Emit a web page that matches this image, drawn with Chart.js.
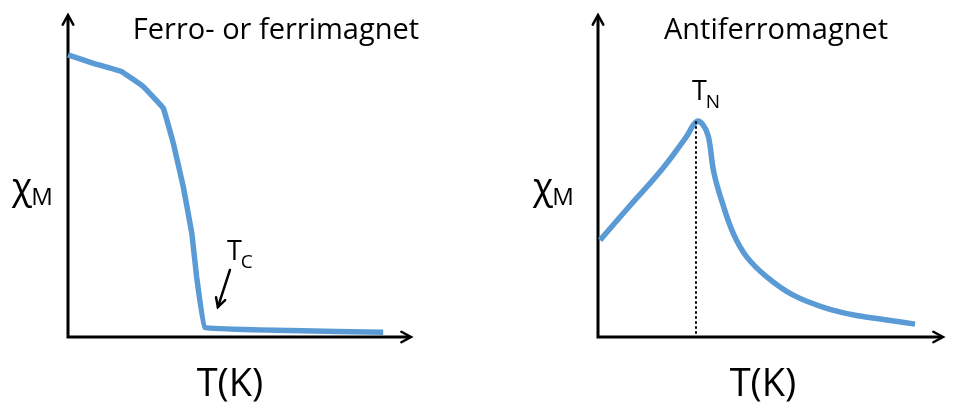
<!DOCTYPE html>
<html><head><meta charset="utf-8">
<script src="https://cdn.jsdelivr.net/npm/chart.js@4"></script>
<style>
html,body{margin:0;padding:0;background:#fff;}
#wrap{display:flex;width:960px;height:414px;}
canvas{display:block;}
</style>
</head><body>
<div id="wrap"><canvas id="c1" width="480" height="414"></canvas><canvas id="c2" width="480" height="414"></canvas></div>
<script>
// ---- data (arbitrary units, 0..100) ----
const ferroT   = [0, 7.4, 15.7, 22.0, 27.8, 30.7, 33.6, 36.1, 37.5, 39.9, 64.7, 91.9];
const ferroChi = [87.6, 85.0, 82.4, 77.7, 71.0, 60.2, 46.7, 32.2, 18.7, 3.0, 2.0, 1.5];
const afmT     = [0.6, 8.8, 18.5, 25.5, 28.6, 30.5, 32.0, 33.6, 36.1, 39.2, 43.1, 48.9, 56.6, 66.3, 75.9, 83.7, 91.9];
const afmChi   = [30.1, 40.2, 52.0, 62.0, 66.9, 65.8, 62.2, 51.0, 41.5, 32.2, 24.9, 18.7, 13.0, 8.9, 6.5, 5.3, 4.0];
const neelT = 28.4, neelChi = 67.0;
const curieArrowT = [47.2, 43.7], curieArrowChi = [20.8, 9.3];
const titles = ["Ferro- or ferrimagnet", "Antiferromagnet"];
const xLabel = "T(K)";
const yMain = "χ", ySub = "M";
const curieMain = "T", curieSub = "C";
const neelMain = "T", neelSub = "N";

const BLUE = "#5b9bd5";
const FONT = "'Open Sans', sans-serif";
const pts = (xs, ys) => xs.map((x, i) => ({x, y: ys[i]}));

function chevron(ctx, tx, ty, ang, len, spread) {
  ctx.beginPath();
  ctx.moveTo(tx - len*Math.cos(ang - spread), ty - len*Math.sin(ang - spread));
  ctx.lineTo(tx, ty);
  ctx.lineTo(tx - len*Math.cos(ang + spread), ty - len*Math.sin(ang + spread));
  ctx.stroke();
}
function subText(ctx, main, sub, x, y, mainSize, subSize, subDy) {
  ctx.textAlign = "left"; ctx.textBaseline = "alphabetic";
  ctx.font = mainSize + "px " + FONT;
  ctx.fillText(main, x, y);
  const w = ctx.measureText(main).width;
  ctx.font = subSize + "px " + FONT;
  ctx.fillText(sub, x + w - 1, y + subDy);
}

const decor = {
  id: 'decor',
  beforeDatasetsDraw(chart, args, o) {
    const {ctx, chartArea: a} = chart;
    ctx.save();
    ctx.strokeStyle = "#000"; ctx.lineWidth = 3; ctx.lineCap = "butt";
    ctx.beginPath();
    ctx.moveTo(a.left, a.bottom + 1.5); ctx.lineTo(a.left, a.top + 1);
    ctx.moveTo(a.left - 1.5, a.bottom); ctx.lineTo(a.right - 1, a.bottom);
    ctx.stroke();
    ctx.lineWidth = 2.5; ctx.lineCap = "round"; ctx.lineJoin = "miter";
    chevron(ctx, a.left, a.top, -Math.PI/2, 11, 0.5);
    chevron(ctx, a.right, a.bottom, 0, 11, 0.5);
    ctx.restore();
  },
  afterDraw(chart, args, o) {
    const {ctx, chartArea: a, scales: {x, y}} = chart;
    ctx.save();
    ctx.fillStyle = "#000";
    ctx.font = "29px " + FONT; ctx.textAlign = "center"; ctx.textBaseline = "alphabetic";
    ctx.fillText(o.title, o.titleX, 39);
    ctx.font = "38px " + FONT;
    ctx.fillText(xLabel, o.xLabelX, 396);
    subText(ctx, yMain, ySub, o.yLabelX, 199, 37, 24, 6);
    if (o.curie) {
      const x0 = x.getPixelForValue(curieArrowT[0]), y0 = y.getPixelForValue(curieArrowChi[0]);
      const x1 = x.getPixelForValue(curieArrowT[1]), y1 = y.getPixelForValue(curieArrowChi[1]);
      ctx.strokeStyle = "#000"; ctx.lineWidth = 2.5; ctx.lineCap = "round";
      ctx.beginPath(); ctx.moveTo(x0, y0); ctx.lineTo(x1, y1); ctx.stroke();
      chevron(ctx, x1, y1, Math.atan2(y1 - y0, x1 - x0), 10, 0.5);
      subText(ctx, curieMain, curieSub, x0 - 3, y0 - 10, 27, 19, 8);
    }
    if (o.neel) {
      const px = x.getPixelForValue(neelT), py = y.getPixelForValue(neelChi);
      subText(ctx, neelMain, neelSub, px - 4, py - 21, 27, 19, 8);
    }
    ctx.restore();
  }
};

function make(id, datasets, pad, opts) {
  return new Chart(document.getElementById(id), {
    type: 'line',
    data: {datasets},
    options: {
      responsive: false, animation: false, events: [],
      layout: {padding: pad},
      scales: {
        x: {type: 'linear', min: 0, max: 100, display: false},
        y: {type: 'linear', min: 0, max: 100, display: false}
      },
      plugins: {legend: {display: false}, tooltip: {enabled: false}, decor: opts}
    },
    plugins: [decor]
  });
}

make('c1', [{
  data: pts(ferroT, ferroChi), borderColor: BLUE, borderWidth: 5.5, pointRadius: 0,
  tension: 0.05, clip: false, borderJoinStyle: 'round', borderCapStyle: 'butt'
}], {left: 68, right: 69, top: 15, bottom: 77},
{title: titles[0], titleX: 276, xLabelX: 230, yLabelX: 12, curie: true});

make('c2', [{
  data: pts([neelT, neelT], [neelChi, 0]), borderColor: '#000', borderWidth: 2,
  borderDash: [2.5, 2.5], pointRadius: 0, clip: false
}, {
  data: pts(afmT, afmChi), borderColor: BLUE, borderWidth: 5.5, pointRadius: 0,
  tension: 0.4, clip: false, borderJoinStyle: 'round'
}], {left: 118, right: 17, top: 15, bottom: 77},
{title: titles[1], titleX: 296, xLabelX: 283, yLabelX: 53, neel: true});
</script>
</body></html>
